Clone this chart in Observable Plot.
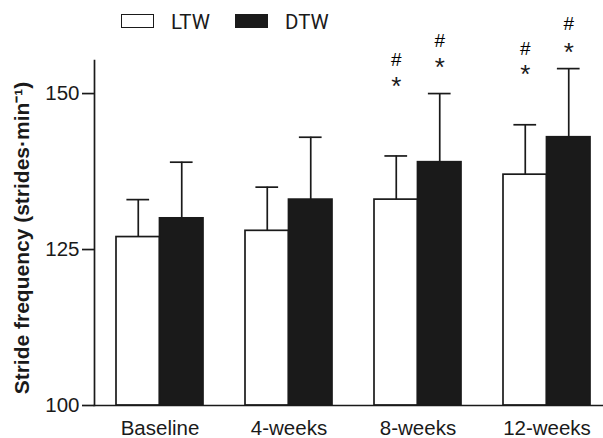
<!DOCTYPE html>
<html>
<head>
<meta charset="utf-8">
<script src="https://cdn.jsdelivr.net/npm/d3@7"></script>
<script src="https://cdn.jsdelivr.net/npm/@observablehq/plot@0.6"></script>
<style>
  html, body { margin: 0; padding: 0; background: #fff; }
  #wrap { position: relative; width: 603px; height: 438px; font-family: "Liberation Sans", Arial, sans-serif; color: #1a1a1a; }
  #legend { position: absolute; left: 0; top: 0; width: 603px; height: 40px; }
  .sw { position: absolute; top: 14px; width: 33px; height: 14px; box-sizing: border-box; border: 1.6px solid #1a1a1a; }
  .lt { position: absolute; top: 10px; font-family: Roboto, "Liberation Sans", sans-serif; font-size: 20.5px; line-height: 24px; }
  #chart { position: absolute; left: 0; top: 0; }
</style>
</head>
<body>
<div id="wrap">
  <div id="chart"></div>
  <div id="legend">
    <div class="sw" style="left:121px;background:#fff"></div>
    <div class="lt" style="left:171px">LTW</div>
    <div class="sw" style="left:235px;background:#1a1a1a"></div>
    <div class="lt" style="left:285px">DTW</div>
  </div>
</div>
<script>
const groups = ["Baseline", "4-weeks", "8-weeks", "12-weeks"];
const series = ["LTW", "DTW"];
const ltwMean = [127, 128, 133, 137];
const ltwSD = [6, 7, 7, 8];
const dtwMean = [130, 133, 139, 143];
const dtwSD = [9, 10, 11, 11];
// heights (in y units) of the significance marks
const ltwStarY = [null, null, 151.8, 153.7];
const ltwHashY = [null, null, 155.4, 157.2];
const dtwStarY = [null, null, 154.8, 157.2];
const dtwHashY = [null, null, 158.4, 161.1];
const yTicks = [100, 125, 150];

const ltwRows = groups.map((g, i) => ({group: g, series: "LTW", mean: ltwMean[i], top: ltwMean[i] + ltwSD[i], star: ltwStarY[i], hash: ltwHashY[i]}));
const dtwRows = groups.map((g, i) => ({group: g, series: "DTW", mean: dtwMean[i], top: dtwMean[i] + dtwSD[i], star: dtwStarY[i], hash: dtwHashY[i]}));

const ink = "#1a1a1a";
const half = 43.48;   // half of the group band
const capIn = 10.4;   // cap inset inside a bar
const sw = 1.7;

const chart = Plot.plot({
  width: 603,
  height: 438,
  marginLeft: 94,
  marginRight: 0,
  marginTop: 60,
  marginBottom: 33,
  style: {fontFamily: "'Liberation Sans', Arial, sans-serif", fontSize: "20px", color: ink, background: "white"},
  x: {domain: groups, paddingInner: 0.328, paddingOuter: 0.1306, align: 0.621, label: null},
  y: {domain: [100, 155.3], label: null},
  marks: [
    Plot.barY(ltwRows, {x: "group", y1: 100, y2: "mean", fill: "white", stroke: ink, strokeWidth: sw, insetRight: half}),
    Plot.barY(dtwRows, {x: "group", y1: 100, y2: "mean", fill: ink, stroke: ink, strokeWidth: sw, insetLeft: half}),
    Plot.ruleX(ltwRows, {x: "group", y1: "mean", y2: "top", dx: -half / 2, stroke: ink, strokeWidth: sw}),
    Plot.ruleX(dtwRows, {x: "group", y1: "mean", y2: "top", dx: half / 2, stroke: ink, strokeWidth: sw}),
    Plot.tickY(ltwRows, {x: "group", y: "top", insetLeft: capIn, insetRight: half + capIn, stroke: ink, strokeWidth: sw}),
    Plot.tickY(dtwRows, {x: "group", y: "top", insetLeft: half + capIn, insetRight: capIn, stroke: ink, strokeWidth: sw}),
    Plot.text(ltwRows, {x: "group", y: "star", text: () => "*", dx: -half / 2, dy: 4, fontSize: 26, fill: ink}),
    Plot.text(dtwRows, {x: "group", y: "star", text: () => "*", dx: half / 2, dy: 4, fontSize: 26, fill: ink}),
    Plot.text(ltwRows, {x: "group", y: "hash", text: () => "#", dx: -half / 2, fontSize: 19, fill: "#000"}),
    Plot.text(dtwRows, {x: "group", y: "hash", text: () => "#", dx: half / 2, fontSize: 19, fill: "#000"}),
    Plot.frame({anchor: "left", stroke: ink, strokeWidth: sw}),
    Plot.frame({anchor: "bottom", stroke: ink, strokeWidth: sw}),
    Plot.axisY({ticks: yTicks, tickSize: 12, tickPadding: 3, stroke: ink, strokeWidth: sw, label: null, fontSize: 20.5}),
    Plot.axisX({tickSize: 0, tickPadding: 15, label: null, fontSize: 20.5}),
    Plot.text(["Stride frequency (strides\u00b7min\u207b\u00b9)"], {frameAnchor: "left", text: d => d, rotate: -90, textAnchor: "middle", lineAnchor: "middle", dx: -72, dy: 5, fontSize: 21, fontWeight: "bold", fill: ink})
  ]
});
document.getElementById("chart").appendChild(chart);
</script>
</body>
</html>
